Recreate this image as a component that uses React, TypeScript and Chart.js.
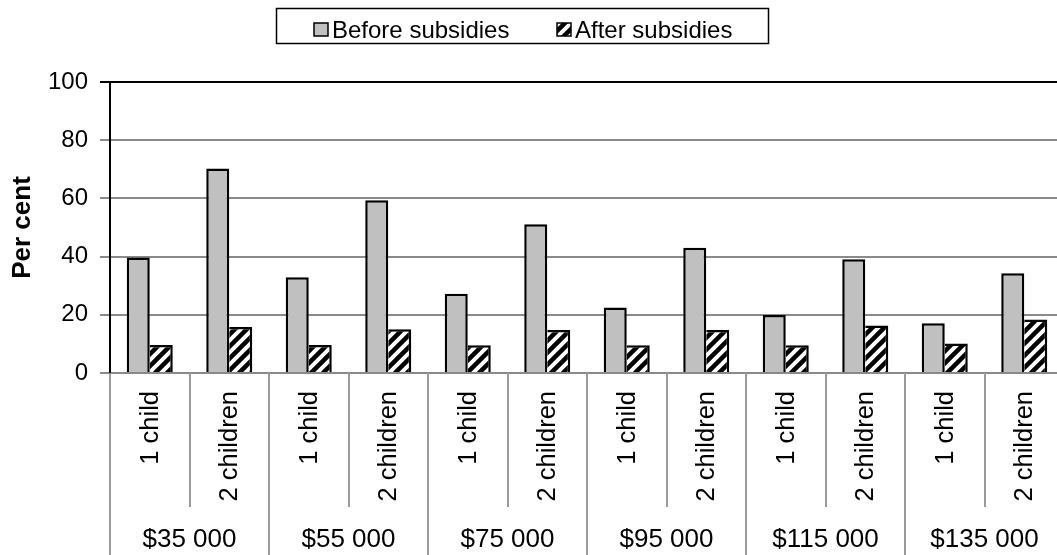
import React, { useEffect, useRef } from "react";
import { Chart, registerables } from "chart.js";

Chart.register(...registerables);

// Household type within each income level
const childLabels = ["1 child", "2 children"];
// Family income levels (group labels under the axis)
const incomeGroups = ["$35 000", "$55 000", "$75 000", "$95 000", "$115 000", "$135 000"];
// Out-of-pocket childcare cost share, per cent
const beforeSubsidies = [39.7, 70.3, 32.9, 59.4, 27.2, 51.1, 22.5, 43.0, 19.9, 39.1, 17.1, 34.3];
const afterSubsidies = [9.6, 15.8, 9.6, 15.0, 9.5, 14.8, 9.5, 14.8, 9.5, 16.3, 10.1, 18.4];
const seriesNames = ["Before subsidies", "After subsidies"];
const yTicks = [0, 20, 40, 60, 80, 100];

const FONT = '"Liberation Sans", Arial, sans-serif';
const CANVAS_W = 1070;
const CANVAS_H = 555;

function makeHatch(): CanvasPattern {
  const s = 12;
  const c = document.createElement("canvas");
  c.width = s;
  c.height = s;
  const g = c.getContext("2d")!;
  g.fillStyle = "#fff";
  g.fillRect(0, 0, s, s);
  g.strokeStyle = "#000";
  g.lineWidth = 4.5;
  g.lineCap = "square";
  g.beginPath();
  g.moveTo(0, s);
  g.lineTo(s, 0);
  g.moveTo(-3, 3);
  g.lineTo(3, -3);
  g.moveTo(s - 3, s + 3);
  g.lineTo(s + 3, s - 3);
  g.stroke();
  return g.createPattern(c, "repeat")!;
}

export default function App() {
  const canvasRef = useRef<HTMLCanvasElement | null>(null);

  useEffect(() => {
    const canvas = canvasRef.current;
    if (!canvas) return;
    const hatch = makeHatch();
    const labels = incomeGroups.flatMap(() => childLabels);

    const decorations = {
      id: "decorations",
      afterDraw(chart: any) {
        const ctx: CanvasRenderingContext2D = chart.ctx;
        const xs = chart.scales.x;
        const area = chart.chartArea;
        ctx.save();

        // Legend box
        ctx.strokeStyle = "#000";
        ctx.lineWidth = 1.5;
        ctx.strokeRect(276.5, 8.5, 492, 35);
        ctx.font = `24px ${FONT}`;
        ctx.textBaseline = "alphabetic";
        ctx.textAlign = "left";
        const items = [
          { x: 314, fill: "#C0C0C0" as any, text: seriesNames[0] },
          { x: 557, fill: hatch as any, text: seriesNames[1] },
        ];
        items.forEach((it) => {
          ctx.fillStyle = it.fill;
          ctx.fillRect(it.x, 23, 14, 13);
          ctx.lineWidth = 1.5;
          ctx.strokeStyle = "#000";
          ctx.strokeRect(it.x, 23, 14, 13);
          ctx.fillStyle = "#000";
          ctx.fillText(it.text, it.x + 18, 38);
        });

        // Category separators
        const p0 = xs.getPixelForValue(0);
        const catW = xs.getPixelForValue(1) - p0;
        ctx.strokeStyle = "#9a9a9a";
        ctx.lineWidth = 2;
        for (let i = 0; i <= labels.length; i++) {
          const x = Math.round(p0 - catW / 2 + i * catW);
          ctx.beginPath();
          ctx.moveTo(x, area.bottom);
          ctx.lineTo(x, i % 2 === 0 ? CANVAS_H : 507);
          ctx.stroke();
        }

        // Rotated household labels
        ctx.fillStyle = "#000";
        ctx.font = `25.5px ${FONT}`;
        labels.forEach((lab, i) => {
          const x = xs.getPixelForValue(i);
          ctx.save();
          ctx.translate(x, 391);
          ctx.rotate(-Math.PI / 2);
          ctx.textAlign = "right";
          ctx.textBaseline = "middle";
          ctx.fillText(lab, 0, 1);
          ctx.restore();
        });

        // Income group labels
        ctx.font = `26px ${FONT}`;
        ctx.textAlign = "center";
        ctx.textBaseline = "alphabetic";
        incomeGroups.forEach((g, gi) => {
          const x = (xs.getPixelForValue(gi * 2) + xs.getPixelForValue(gi * 2 + 1)) / 2;
          ctx.fillText(g, x, 547);
        });

        ctx.restore();
      },
    };

    const chart = new Chart(canvas, {
      type: "bar",
      data: {
        labels,
        datasets: [
          {
            label: seriesNames[0],
            data: beforeSubsidies,
            backgroundColor: "#C0C0C0",
            borderColor: "#000",
            borderWidth: { top: 2.5, left: 2.5, right: 2.5, bottom: 0 },
            borderSkipped: false,
            categoryPercentage: 0.579,
            barPercentage: 1,
          },
          {
            label: seriesNames[1],
            data: afterSubsidies,
            backgroundColor: hatch as any,
            borderColor: "#000",
            borderWidth: { top: 2.5, left: 0, right: 2.5, bottom: 0 },
            borderSkipped: false,
            categoryPercentage: 0.579,
            barPercentage: 1,
          },
        ] as any,
      },
      options: {
        responsive: false,
        animation: false,
        devicePixelRatio: 1,
        layout: { padding: { top: 82, bottom: CANVAS_H - 373, left: 0, right: CANVAS_W - 1064 } },
        plugins: { legend: { display: false }, tooltip: { enabled: false } },
        scales: {
          x: {
            type: "category",
            offset: true,
            grid: { display: false },
            ticks: { display: false },
            border: { color: "#8a8a8a", width: 2 },
            afterFit: (s: any) => {
              s.height = 0;
            },
          },
          y: {
            min: 0,
            max: 100,
            afterBuildTicks: (s: any) => {
              s.ticks = yTicks.map((v) => ({ value: v }));
            },
            afterFit: (s: any) => {
              s.width = 110;
            },
            grid: {
              color: (c: any) => (c.tick && c.tick.value === 100 ? "#000" : "#8a8a8a"),
              lineWidth: 2,
              tickLength: 10,
            },
            border: { color: "#000", width: 2 },
            ticks: {
              color: "#000",
              padding: 12,
              font: { family: FONT, size: 24 },
            },
            title: {
              display: true,
              text: "Per cent",
              color: "#000",
              font: { family: FONT, size: 26, weight: "bold" },
              padding: { top: 7, bottom: 0 },
            },
          },
        },
      },
      plugins: [decorations],
    } as any);

    return () => chart.destroy();
  }, []);

  return (
    <div
      style={{
        position: "fixed",
        left: 0,
        top: 0,
        width: 1057,
        height: CANVAS_H,
        overflow: "hidden",
        background: "#fff",
      }}
    >
      <canvas ref={canvasRef} width={CANVAS_W} height={CANVAS_H} style={{ display: "block" }} />
    </div>
  );
}
